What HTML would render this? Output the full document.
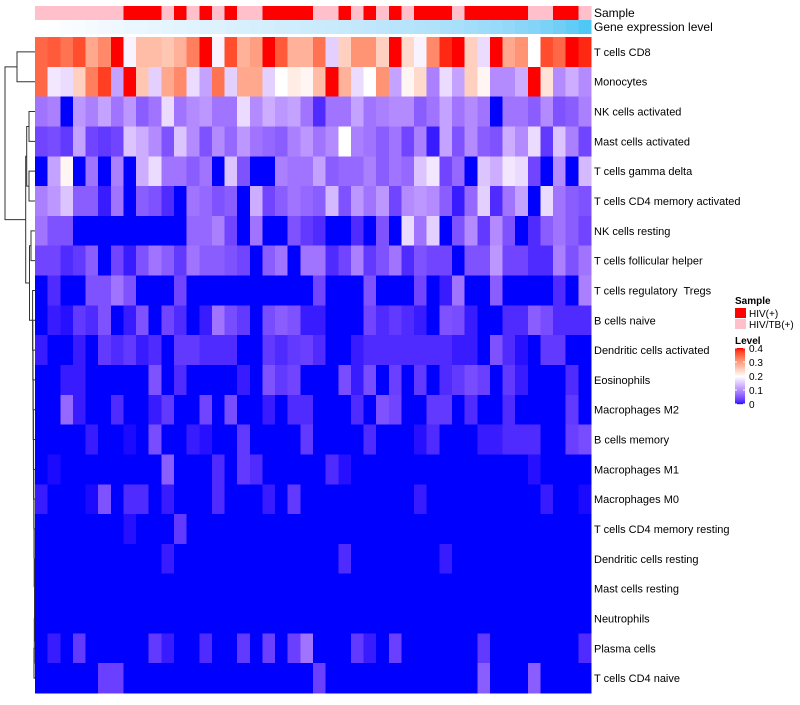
<!DOCTYPE html>
<html><head><meta charset="utf-8"><style>
body{margin:0;background:#fff;width:800px;height:700px;overflow:hidden;font-family:"Liberation Sans",sans-serif}
svg text{font-family:"Liberation Sans",sans-serif;white-space:pre}
</style></head><body>
<svg id="c" width="800" height="700" xmlns="http://www.w3.org/2000/svg"></svg>
<script>
const rowNames=["T cells CD8","Monocytes","NK cells activated","Mast cells activated","T cells gamma delta","T cells CD4 memory activated","NK cells resting","T cells follicular helper","T cells regulatory  Tregs","B cells naive","Dendritic cells activated","Eosinophils","Macrophages M2","B cells memory","Macrophages M1","Macrophages M0","T cells CD4 memory resting","Dendritic cells resting","Mast cells resting","Neutrophils","Plasma cells","T cells CD4 naive"];
const sampleGroup="PPPPPPPRRRPRPRPRPPRRRRPPRPRPRPRRRPRRRRRPPRRP".split("");
const geneLevel=[0,.02,.04,.06,.08,.1,.12,.14,.15,.17,.18,.2,.21,.23,.24,.26,.27,.29,.3,.32,.33,.35,.36,.38,.39,.41,.43,.45,.47,.49,.51,.53,.56,.58,.61,.64,.67,.7,.74,.78,.82,.87,.93,1];
const legendTicks=[0,0.1,0.2,0.3,0.4];
const r0=[.35,.36,.34,.37,.29,.32,.40,.19,.27,.27,.26,.28,.33,.40,.19,.37,.28,.30,.40,.36,.28,.28,.34,.16,.25,.31,.31,.25,.40,.24,.19,.32,.39,.40,.25,.17,.40,.29,.31,.20,.37,.35,.40,.39];
const r1=[.35,.18,.17,.25,.33,.38,.12,.40,.26,.16,.29,.32,.17,.12,.34,.16,.29,.29,.16,.20,.22,.21,.27,.40,.28,.17,.20,.31,.12,.21,.24,.09,.17,.12,.25,.21,.10,.10,.13,.40,.23,.10,.13,.10];
const r2=[.08,.09,0,.11,.09,.12,.08,.11,.06,.08,.17,.08,.10,.11,.08,.08,.17,.10,.13,.11,.12,.08,.02,.08,.08,.12,.08,.09,.10,.10,.06,.08,.12,.08,.10,.08,0,.08,.08,.06,.10,.05,.06,.09];
const r3=[.04,.045,.03,.12,.04,.03,.04,.15,.13,.10,.05,.15,.10,.05,.10,.07,.11,.08,.07,.06,.09,.11,.08,.10,.20,.09,.08,.06,.08,.04,.09,.01,.12,.05,.10,.06,.05,.13,.10,.17,.03,.15,.09,.04];
const r4=[0,.12,.21,0,.08,0,.09,0,.13,.17,.08,.08,.06,.08,0,.15,.05,0,0,.09,.08,.08,.12,.06,.07,.07,.09,.06,.08,.07,.15,.18,.04,.07,0,.15,.13,.18,.17,.04,0,.10,0,.14];
const r5=[.09,.11,.15,.06,.06,.01,.08,0,.06,.05,.02,0,.08,.07,.05,.06,0,.13,.04,.06,.08,.07,.06,.14,.05,.11,.08,.11,.04,.10,.11,.10,.06,.01,.07,.16,.02,.08,.12,0,.17,.08,.06,.05];
const r6=[.08,.05,.05,0,0,0,0,0,0,0,0,0,.07,.07,.09,.04,0,.08,0,0,.05,.03,.02,0,0,.02,0,.05,0,.17,.08,.16,0,.05,.10,.03,.10,.05,0,.02,.06,.08,.06,.04];
const r7=[.04,.04,.02,.03,.06,0,.04,.01,.05,.08,.06,.03,.08,.06,.06,.05,.04,0,.06,.08,0,.08,.08,.02,.04,.09,.03,.05,.08,.02,.05,.04,.04,0,.05,.05,.11,.04,.04,.02,.02,.09,.05,.08];
const r8=[0,.02,0,0,.05,.05,.08,.05,0,0,0,.04,0,0,0,0,0,0,0,0,0,0,.04,0,0,0,.05,0,0,0,.04,0,.01,.08,0,0,.06,0,0,0,0,.02,0,.09];
const r9=[0,.01,.005,.03,.02,.05,0,.01,.05,0,.04,.02,0,.01,.08,.045,.03,0,.045,.06,.05,.01,.01,0,0,0,.04,.02,.03,.02,.01,0,.05,.045,.01,0,0,.02,.02,.06,.045,.02,.02,.02];
const r10=[.01,0,0,.01,0,.03,.02,.03,.01,.02,0,.03,.03,.02,.02,.02,0,0,.03,.02,.03,.035,.02,0,0,.01,.02,.02,.02,.02,.02,.02,.02,.01,.01,0,.05,.02,.005,0,.03,.03,0,0];
const r11=[0,0,.01,.01,0,0,0,0,0,.05,0,.02,0,0,0,0,.01,0,.05,.03,.04,0,0,0,.045,.01,.045,0,.035,0,.03,0,.02,.03,.045,.035,0,.03,.01,0,0,0,.02,0];
const r12=[0,0,.07,.01,0,0,.02,0,0,.01,.03,0,0,.04,0,.045,0,0,.01,0,.02,.02,0,0,0,.02,0,.05,.04,0,0,.03,.03,0,.02,0,0,.02,0,0,0,0,.03,0];
const r13=[0,0,0,0,.01,0,0,.003,0,.045,0,0,.01,.005,0,0,.03,0,0,0,0,.03,0,0,0,0,.02,0,0,0,.005,.02,0,0,0,.01,.01,.02,.02,.02,0,0,.035,.045];
const r14=[0,.003,0,0,0,0,0,0,0,0,.06,0,0,0,.02,0,.03,.02,0,0,0,0,0,.02,.005,0,0,0,0,0,0,0,0,0,0,0,0,0,0,.005,0,0,0,0];
const r15=[.01,0,0,0,.003,.05,0,.02,.02,0,.01,0,0,0,.02,0,0,0,.01,0,.03,0,0,0,0,0,0,0,0,0,.01,0,0,0,0,0,0,0,0,0,.01,0,0,.003];
const r16=[0,0,0,0,0,0,0,.005,0,0,0,.03,0,0,0,0,0,0,0,0,0,0,0,0,0,0,0,0,0,0,0,0,0,0,0,0,0,0,0,0,0,0,0,0];
const r17=[0,0,0,0,0,0,0,0,0,0,.01,0,0,0,0,0,0,0,0,0,0,0,0,0,.02,0,0,0,0,0,0,0,.01,0,0,0,0,0,0,0,0,0,0,0];
const r18=[0,0,0,0,0,0,0,0,0,0,0,0,0,0,0,0,0,0,0,0,0,0,0,0,0,0,0,0,0,0,0,0,0,0,0,0,0,0,0,0,0,0,0,0];
const r19=[0,0,0,0,0,0,0,0,0,0,0,0,0,0,0,0,0,0,0,0,0,0,0,0,0,0,0,0,0,0,0,0,0,0,0,0,0,0,0,0,0,0,0,0];
const r20=[0,.01,0,.03,0,0,0,0,0,.03,.01,0,0,.02,0,0,.03,0,.035,0,.035,.08,0,0,0,.03,.01,0,.035,0,0,0,0,0,0,.03,0,0,0,0,0,0,0,.02];
const r21=[0,0,0,0,0,.035,.035,0,0,0,0,0,0,0,0,0,0,0,0,0,0,0,.035,0,0,0,0,0,0,0,0,0,0,0,0,.06,0,0,0,.06,0,0,0,0];
const values=[r0,r1,r2,r3,r4,r5,r6,r7,r8,r9,r10,r11,r12,r13,r14,r15,r16,r17,r18,r19,r20,r21];

const NS="http://www.w3.org/2000/svg";
const svg=document.getElementById('c');
function mk(tag,a,p){const e=document.createElementNS(NS,tag);for(const k in a)e.setAttribute(k,a[k]);(p||svg).appendChild(e);return e;}
function toLin(c){c/=255;return c<=0.04045?c/12.92:Math.pow((c+0.055)/1.055,2.4);}
function toSrgb(c){c=c<=0.0031308?12.92*c:1.055*Math.pow(c,1/2.4)-0.055;return Math.max(0,Math.min(255,Math.round(c*255)));}
function rgb2lab(r,g,b){r=toLin(r);g=toLin(g);b=toLin(b);let X=(r*0.4124+g*0.3576+b*0.1805)/0.95047,Y=r*0.2126+g*0.7152+b*0.0722,Z=(r*0.0193+g*0.1192+b*0.9505)/1.08883;const f=q=>q>0.008856?Math.cbrt(q):7.787*q+16/116;X=f(X);Y=f(Y);Z=f(Z);return [116*Y-16,500*(X-Y),200*(Y-Z)];}
function lab2rgb(L,a,bb){let Y=(L+16)/116,X=a/500+Y,Z=Y-bb/200;const fi=q=>q*q*q>0.008856?q*q*q:(q-16/116)/7.787;X=fi(X)*0.95047;Y=fi(Y);Z=fi(Z)*1.08883;const r=X*3.2406+Y*-1.5372+Z*-0.4986,g=X*-0.9689+Y*1.8758+Z*0.0415,b=X*0.0557+Y*-0.2040+Z*1.0570;return `rgb(${toSrgb(r)},${toSrgb(g)},${toSrgb(b)})`;}
const BL=rgb2lab(0,0,255),WH=rgb2lab(255,255,255),RD=rgb2lab(255,0,0);
function col(v){v=Math.max(0,Math.min(0.4,v));let A,B,f;if(v<=0.2){A=BL;B=WH;f=v/0.2;}else{A=WH;B=RD;f=(v-0.2)/0.2;}return lab2rgb(A[0]+(B[0]-A[0])*f,A[1]+(B[1]-A[1])*f,A[2]+(B[2]-A[2])*f);}
const L0=rgb2lab(255,255,255),L1=rgb2lab(79,200,245);
function gcol(f){return lab2rgb(L0[0]+(L1[0]-L0[0])*f,L0[1]+(L1[1]-L0[1])*f,L0[2]+(L1[2]-L0[2])*f);}

const X0=35,X1=591,Y0=37,Y1=693;
const nC=sampleGroup.length,nR=rowNames.length;
const cw=(X1-X0)/nC,rh=(Y1-Y0)/nR;
const xPos=i=>X0+i*cw, yPos=j=>Y0+j*rh;

const gA=mk('g',{'shape-rendering':'crispEdges'});


sampleGroup.forEach((s,i)=>{
  const r=mk('rect',{x:xPos(i),y:6,width:cw+0.5,height:14,fill:s==='R'?'#FF0000':'#FFC0CB'},gA);
  
  
});
geneLevel.forEach((v,i)=>{
  const r=mk('rect',{x:xPos(i),y:20,width:cw+0.5,height:14,fill:gcol(v)},gA);
  
  
});
let tx=mk('text',{x:594,y:17,'font-size':12,fill:'#000'});tx.textContent='Sample';


tx=mk('text',{x:594,y:31,'font-size':12,fill:'#000'});tx.textContent='Gene expression level';



const gH=mk('g',{'shape-rendering':'crispEdges'});


values.forEach((row,j)=>row.forEach((v,i)=>{
  const r=mk('rect',{x:xPos(i),y:yPos(j),width:cw+0.5,height:rh+0.5,fill:col(v)},gH);
  
  
}));
rowNames.forEach((n,j)=>{
  const e=mk('text',{x:594,y:yPos(j)+rh/2+4,'font-size':11,fill:'#000'});e.textContent=n;
  
  
});

const gD=mk('g',{stroke:'#333','stroke-width':1,fill:'none'});


const leaf=j=>({x:35,y:yPos(j)+rh/2});
function merge(a,b,x){mk('path',{d:`M${a.x},${a.y}H${x}V${b.y}H${b.x}`},gD);return {x:x,y:(a.y+b.y)/2};}
const topNode=merge(leaf(0),leaf(1),17);
const n23=merge(leaf(2),leaf(3),29),n45=merge(leaf(4),leaf(5),29);
const n2345=merge(n23,n45,26.7);
const n67=merge(leaf(6),leaf(7),31);
let chainNode=merge(leaf(20),leaf(21),34);
const chainX=[34.3,34.5,34.6,34.2,34,33.8,33.6,33.4,33.2,33,32.8,32.6];
for(let j=19,k=0;j>=8;j--,k++){chainNode=merge(leaf(j),chainNode,chainX[k]);}
const lowNode=merge(n67,chainNode,29.5);
const midNode=merge(n2345,lowNode,25.7);
merge(topNode,midNode,5);

const gL=mk('g',{});


tx=mk('text',{x:735,y:304,'font-size':10,'font-weight':'bold'},gL);tx.textContent='Sample';


[['#FF0000','HIV(+)'],['#FFC0CB','HIV/TB(+)']].forEach((d,k)=>{
  const r=mk('rect',{x:735,y:308+k*11,width:11,height:10,fill:d[0]},gL);
  
  
  const e=mk('text',{x:749,y:317+k*11,'font-size':10,fill:'#000'},gL);e.textContent=d[1];
  
  
});
tx=mk('text',{x:735,y:344,'font-size':10,'font-weight':'bold'},gL);tx.textContent='Level';


const cbTop=348,cbBot=404;
for(let k=0;k<56;k++){
  const v=0.4*(1-k/56);
  const r=mk('rect',{x:735,y:cbTop+k,width:10,height:1.2,fill:col(v)},gL);
  
  
}
legendTicks.forEach(v=>{
  const y=cbBot-(v/0.4)*(cbBot-cbTop);
  mk('line',{x1:735,x2:737,y1:y,y2:y,stroke:'#fff'},gL);
  mk('line',{x1:743,x2:745,y1:y,y2:y,stroke:'#fff'},gL);
  const e=mk('text',{x:749,y:y+4,'font-size':10,fill:'#000'},gL);e.textContent=String(v);
  
  
});
</script>
</body></html>
